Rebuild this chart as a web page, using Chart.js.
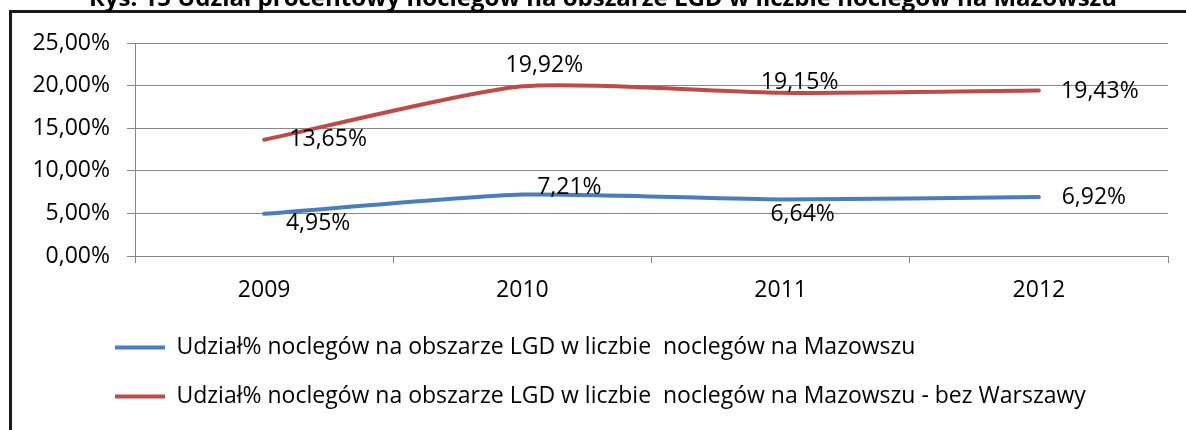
<!DOCTYPE html>
<html>
<head>
<meta charset="utf-8">
<script src="https://cdn.jsdelivr.net/npm/chart.js@4/dist/chart.umd.min.js"></script>
<style>
  html, body { margin: 0; padding: 0; background: #fff; }
  #wrap { width: 1186px; height: 430px; position: relative; }
</style>
</head>
<body>
<div id="wrap"><canvas id="wykres" width="1186" height="430"></canvas></div>
<script>
// dane
const lata = ['2009', '2010', '2011', '2012'];
const udzialMazowsze = [4.95, 7.21, 6.64, 6.92];
const udzialBezWarszawy = [13.65, 19.92, 19.15, 19.43];
const nazwaSerii1 = 'Udział% noclegów na obszarze LGD w liczbie  noclegów na Mazowszu';
const nazwaSerii2 = 'Udział% noclegów na obszarze LGD w liczbie  noclegów na Mazowszu - bez Warszawy';
const tytul = 'Rys. 15 Udział procentowy noclegów na obszarze LGD w liczbie noclegów na Mazowszu';

// przesuniecia etykiet (srodek tekstu wzgledem punktu) - jak w Excelu
const przesuniecia = [
  [[54, 10], [47, -7], [22, 15], [55, 0]],
  [[64, 0], [22, -21], [19, -10], [61, 1]]
];

const FONT = '"Open Sans", "Liberation Sans", sans-serif';
const ROZMIAR = 23;

function procent(v) {
  return v.toFixed(2).replace('.', ',') + '%';
}

const etykiety = {
  id: 'etykiety',
  afterDatasetsDraw(chart) {
    const ctx = chart.ctx;
    ctx.save();
    ctx.font = ROZMIAR + 'px ' + FONT;
    ctx.fillStyle = '#000';
    ctx.textAlign = 'center';
    ctx.textBaseline = 'middle';
    chart.data.datasets.forEach((ds, i) => {
      const meta = chart.getDatasetMeta(i);
      meta.data.forEach((pt, j) => {
        const off = przesuniecia[i][j];
        ctx.fillText(procent(ds.data[j]), pt.x + off[0], pt.y + off[1]);
      });
    });
    ctx.restore();
  }
};

// legenda zaczyna sie pod osia, nie od krawedzi
const przesunLegende = {
  id: 'przesunLegende',
  afterLayout(chart) {
    if (chart.legend) chart.legend.left = 89;
  }
};

const ramka = {
  id: 'ramka',
  afterDraw(chart) {
    const ctx = chart.ctx;
    ctx.save();
    ctx.strokeStyle = '#1a1a1a';
    ctx.lineWidth = 3;
    ctx.strokeRect(10.5, 11.5, 1200, 440);
    ctx.font = 'bold 24px ' + FONT;
    ctx.fillStyle = '#000';
    ctx.textAlign = 'center';
    ctx.textBaseline = 'alphabetic';
    ctx.fillText(tytul, 603, 6, 1063);
    ctx.restore();
  }
};

const wykres = new Chart(document.getElementById('wykres'), {
  type: 'line',
  data: {
    labels: lata,
    datasets: [{
      label: nazwaSerii1,
      data: udzialMazowsze,
      borderColor: '#4a7ebb',
      backgroundColor: '#4a7ebb',
      borderWidth: 4,
      pointRadius: 0,
      tension: 0.2,
      borderCapStyle: 'round'
    }, {
      label: nazwaSerii2,
      data: udzialBezWarszawy,
      borderColor: '#be4b48',
      backgroundColor: '#be4b48',
      borderWidth: 4,
      pointRadius: 0,
      tension: 0.2,
      borderCapStyle: 'round'
    }]
  },
  options: {
    responsive: false,
    animation: false,
    layout: { padding: { left: 0, right: 18, top: 43, bottom: 12 } },
    scales: {
      x: {
        offset: true,
        grid: { display: true, drawOnChartArea: false, drawTicks: true, tickLength: 7, color: '#878787', offset: true },
        border: { color: '#878787', width: 1 },
        ticks: { color: '#000', font: { family: FONT, size: ROZMIAR }, padding: 14, maxRotation: 0 },
        afterFit(scale) { scale.height = 54; }
      },
      y: {
        min: 0,
        max: 25,
        grid: { color: '#878787', tickLength: 8 },
        border: { color: '#878787', width: 1 },
        ticks: {
          stepSize: 5,
          color: '#000',
          font: { family: FONT, size: ROZMIAR },
          padding: 17,
          callback: v => procent(v)
        },
        afterFit(scale) { scale.width = 135; }
      }
    },
    plugins: {
      title: { display: false },
      tooltip: { enabled: false },
      legend: {
        display: true,
        position: 'bottom',
        align: 'start',
        labels: {
          color: '#000',
          font: { family: FONT, size: ROZMIAR },
          boxWidth: 50,
          boxHeight: 4,
          padding: 26,
          generateLabels(chart) {
            const items = Chart.defaults.plugins.legend.labels.generateLabels(chart);
            items.forEach(it => { it.lineWidth = 0; it.fillStyle = it.strokeStyle; });
            return items;
          }
        }
      }
    }
  },
  plugins: [etykiety, przesunLegende, ramka]
});
</script>
</body>
</html>
